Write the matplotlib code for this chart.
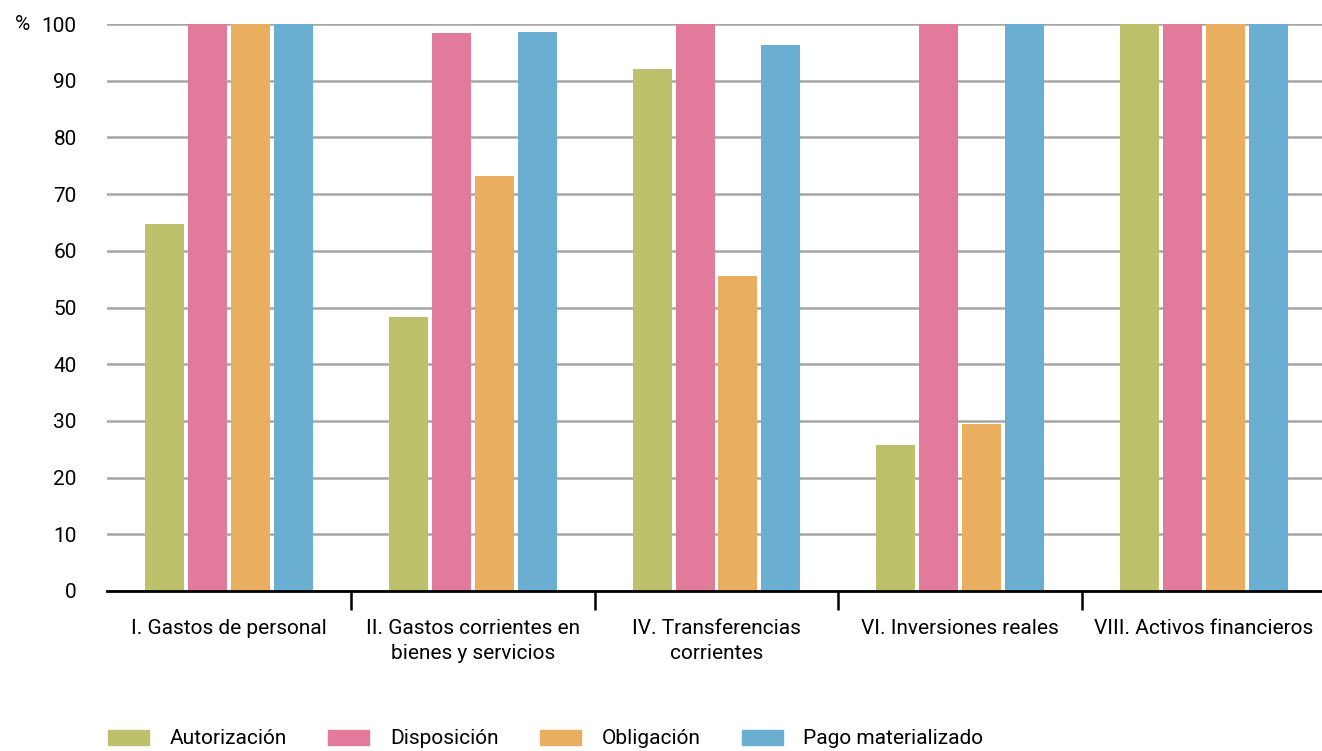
import numpy as np
import matplotlib.pyplot as plt
from matplotlib.patches import Patch

# Data
categories = ['I. Gastos de personal', 'II. Gastos corrientes en\nbienes y servicios',
              'IV. Transferencias\ncorrientes', 'VI. Inversiones reales',
              'VIII. Activos financieros']
series = ['Autorización', 'Disposición', 'Obligación', 'Pago materializado']
autorizacion = [64.7, 48.3, 92.1, 25.7, 100]
disposicion = [100, 98.4, 100, 100, 100]
obligacion = [100, 73.2, 55.6, 29.5, 100]
pago = [100, 98.6, 96.3, 100, 100]
colors = ['#bec16b', '#e27a9b', '#e9ae60', '#6aaed2']

plt.rcParams['font.family'] = ['Roboto', 'DejaVu Sans']

fig = plt.figure(figsize=(13.22, 7.51), dpi=100)
ax = fig.add_axes([107.3 / 1322, 1 - 591 / 751, 1218.4 / 1322, 567 / 751])

x = np.arange(len(categories))
width = 0.16
step = 0.176
values = [autorizacion, disposicion, obligacion, pago]
for i, vals in enumerate(values):
    ax.bar(x + (i - 1.5) * step, vals, width, color=colors[i], zorder=3, clip_on=False)

ax.set_xlim(-0.5, len(categories) - 0.5)
ax.set_ylim(0, 100)
ax.set_yticks(np.arange(0, 101, 10))
ax.grid(axis='y', color='#a6a6a6', linewidth=1.8, zorder=0)
ax.set_axisbelow(True)

for s in ['top', 'right', 'left']:
    ax.spines[s].set_visible(False)
ax.spines['bottom'].set_linewidth(2)
ax.spines['bottom'].set_zorder(4)

ax.set_xticks(x)
ax.set_xticklabels(categories, fontsize=15, va='top', linespacing=1.4)
ax.tick_params(axis='x', which='major', length=0, pad=20)
ax.set_xticks(np.arange(0.5, len(categories) - 1, 1), minor=True)
ax.tick_params(axis='x', which='minor', length=14, width=1.8)
ax.tick_params(axis='y', length=0, pad=22, labelsize=15)

fig.text(22 / 1322, 1 - 24 / 751, '%', fontsize=15, ha='center', va='center')

handles = [Patch(color=c, label=s) for c, s in zip(colors, series)]
fig.legend(handles=handles, loc='center left', bbox_to_anchor=(108 / 1322, 1 - 739 / 751),
           ncol=4, frameon=False, fontsize=15, handlelength=1.95, handleheight=0.7,
           columnspacing=2.0, handletextpad=1.0, borderpad=0, borderaxespad=0)

fig.savefig('out.png', dpi=100)
